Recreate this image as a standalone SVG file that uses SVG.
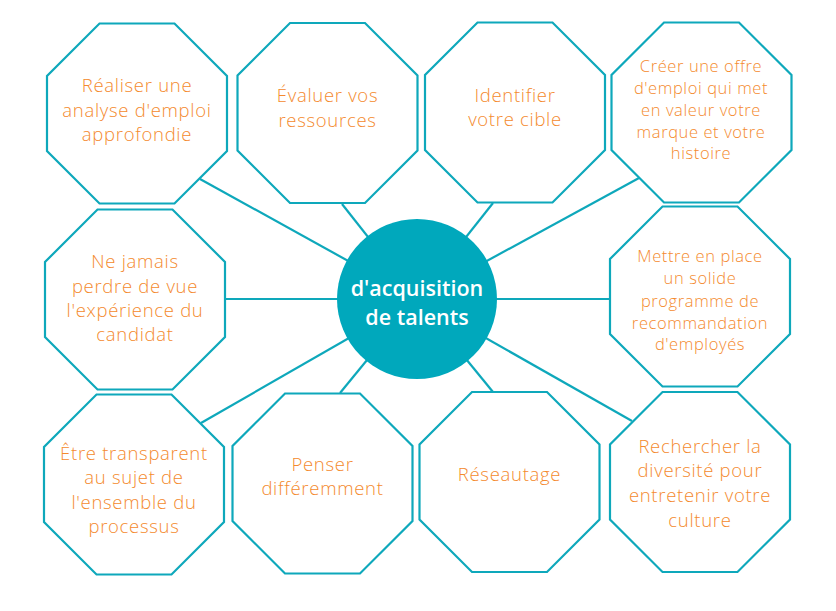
<svg xmlns="http://www.w3.org/2000/svg" width="836" height="611" viewBox="0 0 836 611">
<style>
.oct{fill:#ffffff;stroke:#0EA8BB;stroke-width:2.2}
.con line{stroke:#0EA8BB;stroke-width:2.2}
.t{font-family:"Open Sans","Noto Sans",sans-serif;font-size:18.5px;font-weight:300;letter-spacing:0.7px;fill:#F48A2E;text-anchor:middle}
.ts{font-size:16.5px;letter-spacing:0.6px}
.c{font-family:"Open Sans","Noto Sans",sans-serif;font-size:21.5px;font-weight:600;fill:#ffffff;text-anchor:middle}
</style>
<defs>
<polygon id="oct" points="-37.5,-90 37.5,-90 90,-37.5 90,37.5 37.5,90 -37.5,90 -90,37.5 -90,-37.5"/>
</defs>
<rect width="836" height="611" fill="#ffffff"/>
<g id="connectors" class="con">
<line x1="417" y1="299" x2="200" y2="179"/>
<line x1="417" y1="299" x2="342" y2="204"/>
<line x1="417" y1="299" x2="493" y2="203"/>
<line x1="417" y1="299" x2="639" y2="178"/>
<line x1="417" y1="299" x2="225" y2="299"/>
<line x1="417" y1="299" x2="610" y2="299"/>
<line x1="417" y1="299" x2="201" y2="423"/>
<line x1="417" y1="299" x2="340" y2="393"/>
<line x1="417" y1="299" x2="493" y2="392"/>
<line x1="417" y1="299" x2="632" y2="421"/>
</g>
<g id="n1"><use href="#oct" class="oct" x="137" y="113.5"/>
<text class="t" x="137"><tspan x="137" y="91.5">Réaliser une</tspan><tspan x="137" y="116.5">analyse d'emploi</tspan><tspan x="137" y="140.5">approfondie</tspan></text></g>
<g id="n2"><use href="#oct" class="oct" x="327.5" y="113"/>
<text class="t"><tspan x="327.5" y="101.5">Évaluer vos</tspan><tspan x="327.5" y="126.5">ressources</tspan></text></g>
<g id="n3"><use href="#oct" class="oct" x="515" y="112.5"/>
<text class="t"><tspan x="515" y="101.5">Identifier</tspan><tspan x="515" y="125.5">votre cible</tspan></text></g>
<g id="n4"><use href="#oct" class="oct" x="701.5" y="112.5"/>
<text class="t ts"><tspan x="701" y="72">Créer une offre</tspan><tspan x="701" y="94">d'emploi qui met</tspan><tspan x="701" y="116">en valeur votre</tspan><tspan x="701" y="138">marque et votre</tspan><tspan x="701" y="159">histoire</tspan></text></g>
<g id="n5"><use href="#oct" class="oct" x="135" y="299.5"/>
<text class="t"><tspan x="135" y="267.5">Ne jamais</tspan><tspan x="135" y="292.5">perdre de vue</tspan><tspan x="135" y="316.5">l'expérience du</tspan><tspan x="135" y="340.5">candidat</tspan></text></g>
<g id="n6"><use href="#oct" class="oct" x="700" y="296.5"/>
<text class="t ts"><tspan x="700" y="262">Mettre en place</tspan><tspan x="700" y="284">un solide</tspan><tspan x="700" y="307">programme de</tspan><tspan x="700" y="329">recommandation</tspan><tspan x="700" y="350">d'employés</tspan></text></g>
<g id="n7"><use href="#oct" class="oct" x="134" y="484.5"/>
<text class="t"><tspan x="134" y="459.5">Être transparent</tspan><tspan x="134" y="483.5">au sujet de</tspan><tspan x="134" y="508.5">l'ensemble du</tspan><tspan x="134" y="532.5">processus</tspan></text></g>
<g id="n8"><use href="#oct" class="oct" x="322.5" y="483.5"/>
<text class="t"><tspan x="322.5" y="470.5">Penser</tspan><tspan x="322.5" y="494.5">différemment</tspan></text></g>
<g id="n9"><use href="#oct" class="oct" x="509.5" y="482"/>
<text class="t"><tspan x="509.5" y="480.5">Réseautage</tspan></text></g>
<g id="n10"><use href="#oct" class="oct" x="700" y="482"/>
<text class="t"><tspan x="700" y="452.5">Rechercher la</tspan><tspan x="700" y="476.5">diversité pour</tspan><tspan x="700" y="501.5">entretenir votre</tspan><tspan x="700" y="526.5">culture</tspan></text></g>
<g id="center"><circle cx="417" cy="299" r="80" fill="#00A8BC"/>
<text class="c"><tspan x="417" y="296">d'acquisition</tspan><tspan x="417" y="325">de talents</tspan></text></g>
</svg>
